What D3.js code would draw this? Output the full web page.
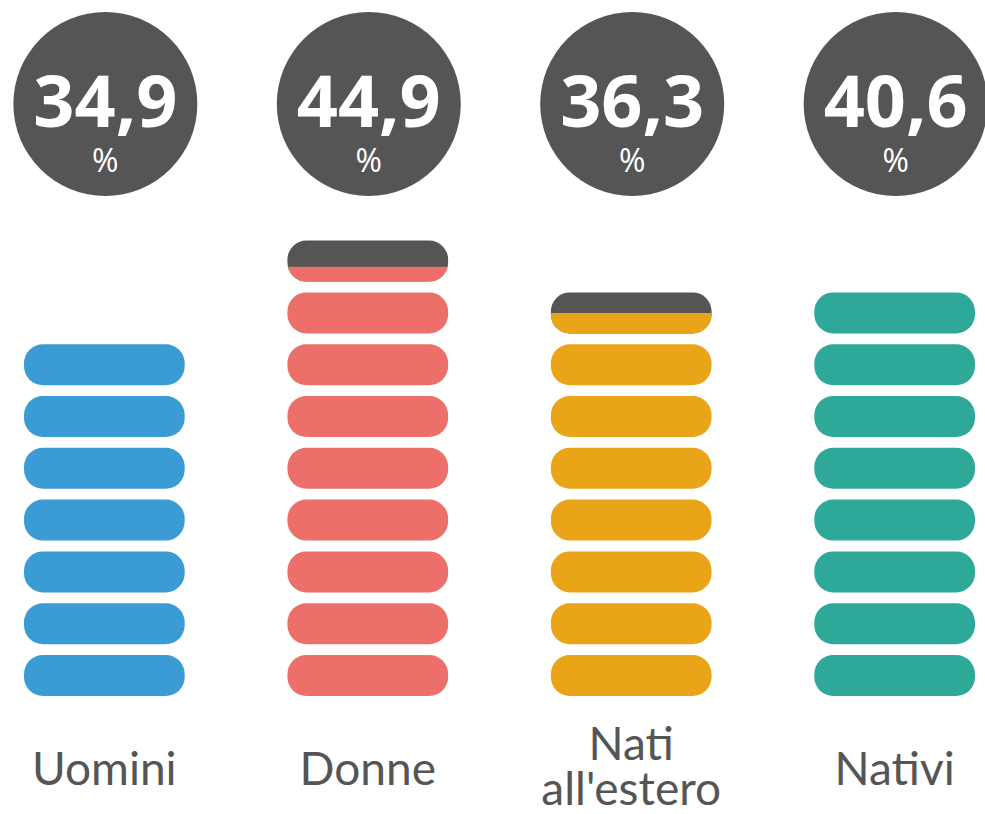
<!DOCTYPE html>
<html>
<head>
<meta charset="utf-8">
<script src="https://cdn.jsdelivr.net/npm/d3@7"></script>
<style>
  body { margin: 0; background: #fff; }
  svg { display: block; }
</style>
</head>
<body>
<div id="chart"></div>
<script>
// data
var categories = ["Uomini", "Donne", "Nati all'estero", "Nativi"];
var values = ["34,9", "44,9", "36,3", "40,6"];
// number of pills drawn per column (fraction = partly filled top pill)
var pills = [7, 8.36, 7.5, 8];
var colors = ["#3a9bd5", "#ec6f6a", "#e9a418", "#2ea899"];

var W = 985, H = 814;
var dark = "#555555";

var svg = d3.select("#chart").append("svg")
  .attr("width", W)
  .attr("height", H);

var x = d3.scaleBand()
  .domain(categories)
  .range([24, 975])
  .paddingInner(0.39)
  .paddingOuter(0);

// pill index (0 = bottom) -> top edge of that pill
var pitch = 51.8;
var y = d3.scaleLinear()
  .domain([0, 9])
  .range([655, 655 - 9 * pitch]);

var pillH = 41;

var defs = svg.append("defs");

categories.forEach(function(cat, c) {
  var g = svg.append("g");
  var cx = x(cat) + x.bandwidth() / 2;
  var full = Math.floor(pills[c]);
  var frac = pills[c] - full;

  // full pills
  d3.range(full).forEach(function(i) {
    g.append("rect")
      .attr("x", x(cat))
      .attr("y", y(i))
      .attr("width", x.bandwidth())
      .attr("height", pillH)
      .attr("rx", 19)
      .attr("fill", colors[c]);
  });

  // partly filled top pill
  if (frac > 0) {
    var top = y(full);
    g.append("rect")
      .attr("x", x(cat))
      .attr("y", top)
      .attr("width", x.bandwidth())
      .attr("height", pillH)
      .attr("rx", 19)
      .attr("fill", dark);

    var id = "clip" + c;
    defs.append("clipPath").attr("id", id)
      .append("rect")
      .attr("x", x(cat))
      .attr("y", top + pillH * (1 - frac))
      .attr("width", x.bandwidth())
      .attr("height", pillH * frac);

    g.append("rect")
      .attr("x", x(cat))
      .attr("y", top)
      .attr("width", x.bandwidth())
      .attr("height", pillH)
      .attr("rx", 19)
      .attr("fill", colors[c])
      .attr("clip-path", "url(#" + id + ")");
  }

  // value circle
  svg.append("circle")
    .attr("cx", cx + 1)
    .attr("cy", 104)
    .attr("r", 92)
    .attr("fill", dark);

  var val = svg.append("text")
    .attr("text-anchor", "middle")
    .attr("font-family", "'Open Sans', sans-serif")
    .attr("fill", "#fff");
  val.append("tspan")
    .attr("x", cx + 1)
    .attr("y", 127)
    .attr("font-weight", 700)
    .attr("font-size", 72)
    .text(values[c]);
  val.append("tspan")
    .attr("x", cx + 1)
    .attr("y", 172)
    .attr("font-weight", 400)
    .attr("font-size", 32)
    .text("%");

  // category label (wraps after "Nati")
  var lines = cat === "Nati all'estero" ? ["Nati", "all'estero"] : [cat];
  var label = svg.append("text")
    .attr("text-anchor", "middle")
    .attr("font-family", "Lato, sans-serif")
    .attr("font-size", 46)
    .attr("fill", "#555");
  var y0 = lines.length > 1 ? 760 : 785;
  lines.forEach(function(l, k) {
    label.append("tspan")
      .attr("x", cx)
      .attr("y", y0 + k * 45)
      .text(l);
  });
});
</script>
</body>
</html>
